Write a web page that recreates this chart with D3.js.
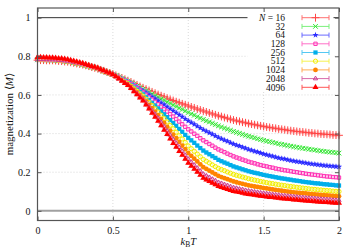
<!DOCTYPE html>
<html>
<head>
<meta charset="utf-8">
<script src="https://cdn.jsdelivr.net/npm/d3@7"></script>
<style>
  body { margin: 0; background: #fff; }
  svg { display: block; }
</style>
</head>
<body>
<div id="wrapper"></div>
<script>
// temperatures k_B T
const temps = [0,0.02,0.04,0.06,0.08,0.1,0.12,0.14,0.16,0.18,0.2,0.22,0.24,0.26,0.28,0.3,0.32,0.34,0.36,0.38,0.4,0.42,0.44,0.46,0.48,0.5,0.52,0.54,0.56,0.58,0.6,0.62,0.64,0.66,0.68,0.7,0.72,0.74,0.76,0.78,0.8,0.82,0.84,0.86,0.88,0.9,0.92,0.94,0.96,0.98,1,1.02,1.04,1.06,1.08,1.1,1.12,1.14,1.16,1.18,1.2,1.22,1.24,1.26,1.28,1.3,1.32,1.34,1.36,1.38,1.4,1.42,1.44,1.46,1.48,1.5,1.52,1.54,1.56,1.58,1.6,1.62,1.64,1.66,1.68,1.7,1.72,1.74,1.76,1.78,1.8,1.82,1.84,1.86,1.88,1.9,1.92,1.94,1.96,1.98,2];

const sizes = ["16", "32", "64", "128", "256", "512", "1024", "2048", "4096"];

const m16 = [0.780,0.780,0.780,0.779,0.779,0.779,0.778,0.776,0.775,0.773,0.772,0.769,0.766,0.763,0.760,0.757,0.753,0.749,0.744,0.740,0.736,0.730,0.725,0.719,0.714,0.708,0.701,0.694,0.688,0.681,0.674,0.667,0.659,0.652,0.644,0.637,0.630,0.623,0.616,0.609,0.602,0.596,0.590,0.583,0.577,0.571,0.565,0.560,0.554,0.549,0.543,0.538,0.533,0.527,0.522,0.517,0.512,0.507,0.502,0.497,0.492,0.488,0.483,0.479,0.474,0.470,0.466,0.463,0.459,0.456,0.452,0.449,0.446,0.443,0.440,0.437,0.434,0.432,0.429,0.427,0.424,0.422,0.420,0.417,0.415,0.413,0.411,0.409,0.408,0.406,0.404,0.403,0.401,0.400,0.398,0.397,0.396,0.395,0.393,0.392,0.391];
const m32 = [0.782,0.782,0.782,0.781,0.781,0.781,0.780,0.778,0.777,0.775,0.774,0.771,0.768,0.764,0.761,0.758,0.754,0.749,0.745,0.740,0.736,0.730,0.724,0.719,0.713,0.707,0.700,0.693,0.685,0.678,0.671,0.663,0.655,0.646,0.638,0.630,0.622,0.613,0.605,0.596,0.588,0.580,0.572,0.564,0.556,0.548,0.540,0.532,0.525,0.517,0.509,0.502,0.495,0.487,0.480,0.473,0.466,0.460,0.453,0.447,0.440,0.434,0.428,0.423,0.417,0.411,0.406,0.401,0.396,0.391,0.386,0.382,0.378,0.373,0.369,0.365,0.361,0.358,0.354,0.351,0.347,0.344,0.341,0.338,0.335,0.332,0.329,0.327,0.324,0.322,0.319,0.317,0.315,0.312,0.310,0.308,0.306,0.304,0.303,0.301,0.299];
const m64 = [0.783,0.783,0.783,0.782,0.782,0.782,0.781,0.779,0.778,0.776,0.775,0.772,0.769,0.765,0.762,0.759,0.754,0.750,0.745,0.741,0.736,0.730,0.724,0.718,0.712,0.706,0.698,0.691,0.683,0.676,0.668,0.659,0.650,0.640,0.631,0.622,0.612,0.602,0.591,0.581,0.571,0.560,0.550,0.539,0.529,0.518,0.508,0.497,0.487,0.476,0.466,0.457,0.448,0.438,0.429,0.420,0.412,0.404,0.396,0.388,0.380,0.373,0.366,0.360,0.353,0.346,0.340,0.335,0.329,0.324,0.318,0.313,0.308,0.304,0.299,0.294,0.290,0.286,0.282,0.278,0.274,0.271,0.268,0.264,0.261,0.258,0.255,0.253,0.250,0.248,0.245,0.243,0.241,0.239,0.237,0.235,0.234,0.232,0.231,0.229,0.228];
const m128 = [0.783,0.783,0.783,0.782,0.782,0.782,0.781,0.779,0.778,0.776,0.775,0.772,0.769,0.765,0.762,0.759,0.754,0.750,0.745,0.741,0.736,0.730,0.724,0.717,0.711,0.705,0.697,0.689,0.681,0.673,0.665,0.655,0.644,0.634,0.623,0.613,0.601,0.589,0.576,0.564,0.552,0.539,0.526,0.514,0.501,0.488,0.475,0.462,0.448,0.435,0.422,0.411,0.399,0.388,0.376,0.365,0.356,0.346,0.337,0.327,0.318,0.311,0.304,0.296,0.289,0.282,0.276,0.271,0.265,0.260,0.254,0.250,0.246,0.241,0.237,0.233,0.230,0.226,0.223,0.219,0.216,0.213,0.210,0.208,0.205,0.202,0.200,0.197,0.195,0.192,0.190,0.188,0.186,0.184,0.182,0.180,0.178,0.177,0.175,0.174,0.172];
const m256 = [0.783,0.783,0.783,0.782,0.782,0.782,0.781,0.779,0.778,0.776,0.775,0.772,0.769,0.765,0.762,0.759,0.754,0.750,0.745,0.741,0.736,0.730,0.724,0.717,0.711,0.705,0.696,0.687,0.679,0.670,0.661,0.649,0.638,0.626,0.615,0.603,0.588,0.574,0.559,0.545,0.530,0.515,0.500,0.485,0.470,0.455,0.440,0.424,0.409,0.393,0.378,0.365,0.352,0.338,0.325,0.312,0.302,0.293,0.283,0.274,0.264,0.257,0.250,0.244,0.237,0.230,0.225,0.220,0.215,0.210,0.205,0.201,0.197,0.194,0.190,0.186,0.183,0.180,0.177,0.174,0.171,0.168,0.166,0.163,0.161,0.158,0.156,0.154,0.151,0.149,0.147,0.145,0.143,0.142,0.140,0.138,0.137,0.135,0.134,0.132,0.131];
const m512 = [0.783,0.783,0.783,0.782,0.782,0.782,0.781,0.779,0.778,0.776,0.775,0.772,0.769,0.765,0.762,0.759,0.754,0.750,0.745,0.741,0.736,0.730,0.723,0.717,0.710,0.704,0.695,0.686,0.676,0.667,0.658,0.645,0.632,0.620,0.607,0.594,0.578,0.561,0.545,0.528,0.512,0.495,0.477,0.460,0.442,0.425,0.407,0.389,0.372,0.354,0.336,0.322,0.308,0.294,0.280,0.266,0.257,0.248,0.238,0.229,0.220,0.214,0.208,0.201,0.195,0.189,0.184,0.180,0.175,0.171,0.166,0.163,0.159,0.156,0.152,0.149,0.146,0.143,0.141,0.138,0.135,0.133,0.131,0.128,0.126,0.124,0.122,0.120,0.118,0.116,0.114,0.112,0.111,0.109,0.108,0.106,0.105,0.104,0.102,0.101,0.100];
const m1024 = [0.783,0.783,0.783,0.782,0.782,0.782,0.781,0.779,0.778,0.776,0.775,0.772,0.769,0.765,0.762,0.759,0.754,0.750,0.745,0.741,0.736,0.730,0.723,0.717,0.710,0.704,0.694,0.684,0.675,0.665,0.655,0.641,0.627,0.613,0.599,0.585,0.567,0.549,0.531,0.513,0.495,0.475,0.455,0.435,0.415,0.395,0.376,0.357,0.338,0.319,0.300,0.285,0.270,0.256,0.241,0.226,0.217,0.208,0.199,0.190,0.181,0.175,0.169,0.164,0.158,0.152,0.148,0.144,0.140,0.136,0.132,0.129,0.126,0.124,0.121,0.118,0.116,0.113,0.111,0.108,0.106,0.104,0.102,0.100,0.098,0.096,0.094,0.093,0.091,0.090,0.088,0.087,0.085,0.084,0.082,0.081,0.080,0.079,0.077,0.076,0.075];
const m2048 = [0.784,0.784,0.784,0.783,0.783,0.783,0.782,0.780,0.779,0.777,0.776,0.773,0.770,0.766,0.763,0.760,0.755,0.751,0.746,0.742,0.737,0.730,0.724,0.717,0.711,0.704,0.694,0.683,0.673,0.662,0.652,0.637,0.622,0.607,0.592,0.577,0.558,0.538,0.519,0.499,0.480,0.458,0.436,0.414,0.392,0.370,0.350,0.329,0.309,0.288,0.268,0.252,0.237,0.221,0.206,0.190,0.181,0.173,0.164,0.156,0.147,0.142,0.136,0.131,0.125,0.120,0.117,0.113,0.110,0.106,0.103,0.101,0.098,0.096,0.093,0.091,0.089,0.087,0.085,0.083,0.081,0.079,0.078,0.076,0.075,0.073,0.072,0.070,0.069,0.067,0.066,0.065,0.064,0.062,0.061,0.060,0.059,0.058,0.056,0.055,0.054];
const m4096 = [0.795,0.795,0.794,0.794,0.793,0.793,0.791,0.789,0.788,0.786,0.784,0.780,0.776,0.772,0.768,0.764,0.759,0.754,0.749,0.744,0.739,0.732,0.726,0.719,0.713,0.706,0.695,0.684,0.672,0.661,0.650,0.634,0.618,0.602,0.586,0.570,0.549,0.528,0.507,0.486,0.465,0.442,0.419,0.396,0.373,0.350,0.330,0.309,0.289,0.268,0.248,0.232,0.217,0.201,0.186,0.170,0.161,0.153,0.144,0.136,0.127,0.122,0.117,0.112,0.107,0.102,0.099,0.096,0.092,0.089,0.086,0.084,0.082,0.079,0.077,0.075,0.073,0.071,0.070,0.068,0.066,0.064,0.063,0.061,0.060,0.058,0.057,0.055,0.054,0.052,0.051,0.050,0.049,0.047,0.046,0.045,0.044,0.043,0.042,0.041,0.040];

// statistical error, same for every point of a run
const errors = [0.008, 0.008, 0.008, 0.008, 0.008, 0.008, 0.008, 0.008, 0.008];

const xTicks = [0, 0.5, 1, 1.5, 2];
const yTicks = [0, 0.2, 0.4, 0.6, 0.8, 1];

// styles per run (gnuplot-like point types)
const styles = [
  { color: "#ff4545", line: "#ff7070", err: "#ffb8b8", symbol: d3.symbolPlus, size: 22, open: true },
  { color: "#33e633", line: "#7cf07c", err: "#b8f6b8", symbol: d3.symbolTimes, size: 16, open: true },
  { color: "#2b2bff", line: "#6a6aff", err: "#b8b8ff", symbol: d3.symbolStar, size: 12, open: false },
  { color: "#ff33b5", line: "#ff70c8", err: "#ffb8e4", symbol: d3.symbolSquare2, size: 14, open: true },
  { color: "#00aeea", line: "#55c8f2", err: "#aae3f8", symbol: d3.symbolSquare, size: 18, open: false },
  { color: "#f2ee00", line: "#f6f250", err: "#fbf9a8", symbol: d3.symbolCircle, size: 14, open: true },
  { color: "#ff8400", line: "#ffaa55", err: "#ffd3a2", symbol: d3.symbolCircle, size: 18, open: false },
  { color: "#cc3d8f", line: "#d86aaa", err: "#ecb5d4", symbol: d3.symbolTriangle2, size: 13, open: true },
  { color: "#ff0000", line: "#ff5555", err: "#ffb3b3", symbol: d3.symbolTriangle, size: 16, open: false },
];

const runs = [m16, m32, m64, m128, m256, m512, m1024, m2048, m4096];

const dimensions = {
  width: 358,
  height: 250,
  margin: { top: 8, right: 19, bottom: 29.5, left: 37.5 },
};
dimensions.boundedWidth =
  dimensions.width - dimensions.margin.left - dimensions.margin.right;
dimensions.boundedHeight =
  dimensions.height - dimensions.margin.top - dimensions.margin.bottom;

const font = "'Liberation Serif', 'Times New Roman', serif";
const frameColor = "#555";

const wrapper = d3
  .select("#wrapper")
  .append("svg")
  .attr("width", dimensions.width)
  .attr("height", dimensions.height);

const bound = wrapper
  .append("g")
  .attr(
    "transform",
    `translate(${dimensions.margin.left},${dimensions.margin.top})`
  );

// Scales
const xScale = d3.scaleLinear([0, 2], [0, dimensions.boundedWidth]);
const yScale = d3.scaleLinear([-0.05, 1.05], [dimensions.boundedHeight, 0]);

// Grid
const grid = bound.append("g").attr("stroke", "#cfcfcf").attr("stroke-width", 0.8)
  .attr("stroke-dasharray", "1,2");
grid.selectAll(".gx")
  .data(xTicks.slice(1, -1))
  .join("line")
  .attr("x1", (d) => xScale(d))
  .attr("x2", (d) => xScale(d))
  .attr("y1", 0)
  .attr("y2", dimensions.boundedHeight);
grid.selectAll(".gy")
  .data([0.2, 0.4, 0.6, 0.8])
  .join("line")
  .attr("x1", 0)
  .attr("x2", dimensions.boundedWidth)
  .attr("y1", (d) => yScale(d))
  .attr("y2", (d) => yScale(d));

// reference lines at M = 0 and M = 1
bound.append("line")
  .attr("x1", 0).attr("x2", dimensions.boundedWidth)
  .attr("y1", yScale(0)).attr("y2", yScale(0))
  .attr("stroke", "#a0a0a0").attr("stroke-width", 2);
bound.append("line")
  .attr("x1", 0).attr("x2", dimensions.boundedWidth)
  .attr("y1", yScale(1)).attr("y2", yScale(1))
  .attr("stroke", "#333").attr("stroke-width", 1);

// Data: error bars then points, small N first
const capHalf = 1.5;
runs.forEach((values, k) => {
  const st = styles[k];
  const err = errors[k];
  const pts = temps.map((t, i) => ({ t, m: values[i] }));
  const g = bound.append("g").attr("class", `run-${sizes[k]}`);

  const eb = g.append("g").attr("stroke", st.err).attr("stroke-width", 1);
  eb.selectAll("path")
    .data(pts)
    .join("path")
    .attr("fill", "none")
    .attr("d", (d) => {
      const x = xScale(d.t);
      const y0 = yScale(d.m - err);
      const y1 = yScale(d.m + err);
      return `M${x},${y0}V${y1}M${x - capHalf},${y0}H${x + capHalf}M${x - capHalf},${y1}H${x + capHalf}`;
    });

  const sym = d3.symbol(st.symbol, st.size);
  g.append("g")
    .selectAll("path")
    .data(pts)
    .join("path")
    .attr("transform", (d) => `translate(${xScale(d.t)},${yScale(d.m)})`)
    .attr("d", sym)
    .attr("fill", st.open ? "none" : st.color)
    .attr("stroke", st.open ? st.color : "none")
    .attr("stroke-width", 1);
});

// Legend
const legend = bound.append("g").attr("class", "legend");
const legendRowY = (i) => 9.7 + i * 8.7;
legend.append("rect")
  .attr("x", 210)
  .attr("y", 3)
  .attr("width", 86)
  .attr("height", 80)
  .attr("fill", "#fff");

sizes.forEach((n, i) => {
  const st = styles[i];
  const y = legendRowY(i);
  const txt = legend.append("text")
    .attr("x", 247.5)
    .attr("y", y + 3.2)
    .attr("text-anchor", "end")
    .style("font-family", font)
    .style("font-size", "9.5px")
    .attr("fill", "#111");
  if (i === 0) {
    txt.append("tspan").style("font-style", "italic").text("N");
    txt.append("tspan").text(" = " + n);
  } else {
    txt.text(n);
  }
  legend.append("path")
    .attr("d", `M264.5,${y}H291.5M264.5,${y - 2.5}V${y + 2.5}M291.5,${y - 2.5}V${y + 2.5}`)
    .attr("fill", "none")
    .attr("stroke", st.line)
    .attr("stroke-width", 1);
  legend.append("path")
    .attr("transform", `translate(278,${y})`)
    .attr("d", d3.symbol(st.symbol, st.size))
    .attr("fill", st.open ? "none" : st.color)
    .attr("stroke", st.open ? st.color : "none")
    .attr("stroke-width", 1);
});

// Axes
const xAxis = d3.axisBottom(xScale).tickValues(xTicks).tickSize(-4).tickPadding(6)
  .tickFormat((d) => String(d));
const xAxisTop = d3.axisTop(xScale).tickValues(xTicks).tickSize(-4).tickFormat("");
const yAxis = d3.axisLeft(yScale).tickValues(yTicks).tickSize(-4).tickPadding(7)
  .tickFormat((d) => String(d));
const yAxisRight = d3.axisRight(yScale).tickValues(yTicks).tickSize(-4).tickFormat("");

const styleAxis = (g) => {
  g.select(".domain").remove();
  g.selectAll(".tick line").attr("stroke", frameColor).attr("stroke-width", 1);
  g.selectAll(".tick text")
    .attr("fill", "#111")
    .style("font-family", font)
    .style("font-size", "10px");
};

bound.append("g")
  .attr("transform", `translate(0,${dimensions.boundedHeight})`)
  .call(xAxis).call(styleAxis);
bound.append("g").call(xAxisTop).call(styleAxis);
bound.append("g").call(yAxis).call(styleAxis);
bound.append("g")
  .attr("transform", `translate(${dimensions.boundedWidth},0)`)
  .call(yAxisRight).call(styleAxis);

// Frame
bound.append("rect")
  .attr("width", dimensions.boundedWidth)
  .attr("height", dimensions.boundedHeight)
  .attr("fill", "none")
  .attr("stroke", frameColor)
  .attr("stroke-width", 1.2);

// Axis labels
const xLabel = wrapper.append("text")
  .attr("x", dimensions.margin.left + xScale(1))
  .attr("y", 245)
  .attr("text-anchor", "middle")
  .style("font-family", font)
  .style("font-size", "10.5px")
  .attr("fill", "#111");
xLabel.append("tspan").style("font-style", "italic").text("k");
xLabel.append("tspan").attr("dy", 2).style("font-size", "7.5px").text("B");
xLabel.append("tspan").attr("dy", -2).style("font-style", "italic").text("T");

const yLabel = wrapper.append("text")
  .attr("transform", `translate(13,${dimensions.margin.top + dimensions.boundedHeight / 2}) rotate(-90)`)
  .attr("text-anchor", "middle")
  .style("font-family", font)
  .style("font-size", "11px")
  .attr("fill", "#111");
yLabel.append("tspan").text("magnetization \u27E8");
yLabel.append("tspan").style("font-style", "italic").text("M");
yLabel.append("tspan").text("\u27E9");
</script>
</body>
</html>
